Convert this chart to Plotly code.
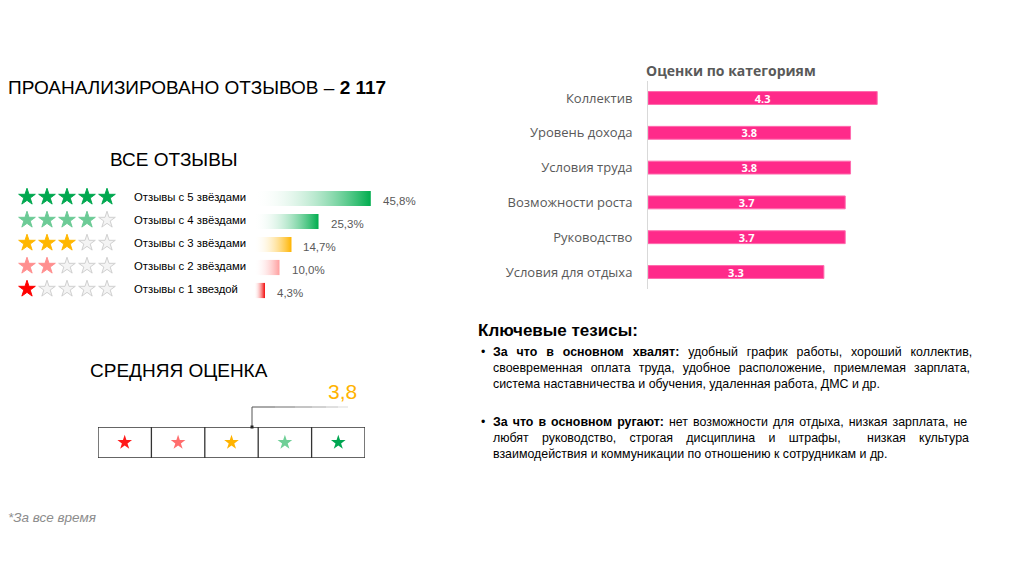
import plotly.graph_objects as go

# ---- data ----
total_reviews = "2 117"
star_levels = [5, 4, 3, 2, 1]
star_labels = ["Отзывы с 5 звёздами", "Отзывы с 4 звёздами", "Отзывы с 3 звёздами",
               "Отзывы с 2 звёздами", "Отзывы с 1 звездой"]
star_share = [45.8, 25.3, 14.7, 10.0, 4.3]
star_colors = ["#00A84F", "#6CCB96", "#FFB700", "#FF8F8F", "#FF0000"]
bar_colors = ["#00AD4E", "#00AD4E", "#FFB400", "#FF9E9E", "#F20000"]

avg_score = 3.8
box_star_colors = ["#FF1A1A", "#FF6E6E", "#FFB300", "#6FCF97", "#00A651"]

categories = ["Коллектив", "Уровень дохода", "Условия труда",
              "Возможности роста", "Руководство", "Условия для отдыха"]
cat_scores = [4.3, 3.8, 3.8, 3.7, 3.7, 3.3]

praise_lines = ["<b>За что в основном хвалят:</b> удобный график работы, хороший коллектив,",
                "своевременная оплата труда, удобное расположение, приемлемая зарплата,",
                "система наставничества и обучения, удаленная работа, ДМС и др."]
blame_lines = ["<b>За что в основном ругают:</b> нет возможности для отдыха, низкая зарплата, не",
               "любят руководство, строгая дисциплина и штрафы,  низкая культура",
               "взаимодействия и коммуникации по отношению к сотрудникам и др."]
# extra word spacing (px) to imitate justified text, 0 = last line of paragraph
praise_spacing = [5.5, 4.8, 0]
blame_spacing = [1.6, 9.8, 0]

# the page body has an 8px margin, so the figure starts at (8, 8)
W, H = 1008, 560


def px(x):
    return (x - 8) / W


def py(y):
    return 1 - (y - 8) / H


ARIAL = "Liberation Sans, Arial, sans-serif"
SEGOE = "Open Sans, sans-serif"

fig = go.Figure()

# right chart: category scores
fig.add_trace(go.Bar(
    x=cat_scores, y=categories, orientation="h", width=0.37,
    marker=dict(color="#FF2A8A", line=dict(color="#FF6BAE", width=1)),
    text=[f"{v:.1f}" for v in cat_scores], textposition="inside",
    insidetextanchor="middle", constraintext="none",
    textfont=dict(family=SEGOE, size=11, color="white", weight="bold"),
    xaxis="x", yaxis="y", showlegend=False, hoverinfo="skip"))

# left: gradient bars with share of reviews
half = 0.33
for i, (v, c) in enumerate(zip(star_share, bar_colors)):
    fig.add_trace(go.Scatter(
        x=[0, v, v, 0, 0], y=[i - half, i - half, i + half, i + half, i - half],
        fill="toself", mode="lines", line=dict(width=0),
        fillgradient=dict(type="horizontal",
                          colorscale=[[0, "rgba(255,255,255,0)"], [1, c]]),
        xaxis="x2", yaxis="y2", showlegend=False, hoverinfo="skip"))

# left: star rows
for i, (n, c) in enumerate(zip(star_levels, star_colors)):
    xs = list(range(1, 6))
    fig.add_trace(go.Scatter(
        x=xs, y=[i] * 5, mode="markers",
        marker=dict(symbol="star", size=12.5,
                    color=[c if k <= n else "#F4F4F4" for k in xs],
                    line=dict(color=[c if k <= n else "#D0D0D0" for k in xs], width=1)),
        xaxis="x3", yaxis="y3", showlegend=False, hoverinfo="skip"))

# average score box stars
fig.add_trace(go.Scatter(
    x=[1, 2, 3, 4, 5], y=[0.5] * 5, mode="markers",
    marker=dict(symbol="star", size=11, color=box_star_colors, line=dict(width=0)),
    xaxis="x4", yaxis="y4", showlegend=False, hoverinfo="skip"))

shapes = []
shapes.append(dict(type="rect", xref="x4", yref="y4", x0=0.5, x1=5.5, y0=0, y1=1,
                   line=dict(color="#333", width=1.3)))
for b in [1.5, 2.5, 3.5, 4.5]:
    shapes.append(dict(type="line", xref="x4", yref="y4", x0=b, x1=b, y0=0, y1=1,
                       line=dict(color="#333", width=1.3)))

# leader line for the average
shapes.append(dict(type="line", xref="paper", yref="paper", x0=px(252), x1=px(252),
                   y0=py(427), y1=py(407), line=dict(color="#555", width=1)))
seg = [252, 275, 295, 312, 326, 338, 348]
for k in range(len(seg) - 1):
    shapes.append(dict(type="line", xref="paper", yref="paper", x0=px(seg[k]), x1=px(seg[k + 1]),
                       y0=py(407), y1=py(407),
                       line=dict(color="#555", width=1), opacity=1 - k * 0.16))
shapes.append(dict(type="rect", xref="paper", yref="paper", x0=px(250.5), x1=px(253.5),
                   y0=py(428.5), y1=py(425.5), fillcolor="#222", line=dict(width=0)))

annotations = []
annotations.append(dict(text="ПРОАНАЛИЗИРОВАНО ОТЗЫВОВ – <b>" + total_reviews + "</b>",
                        x=px(6), y=py(88), xanchor="left", yanchor="middle",
                        font=dict(family=ARIAL, size=19, color="#000")))
annotations.append(dict(text="ВСЕ ОТЗЫВЫ", x=px(174), y=py(160), xanchor="center", yanchor="middle",
                        font=dict(family=ARIAL, size=19, color="#000")))
annotations.append(dict(text="СРЕДНЯЯ ОЦЕНКА", x=px(88), y=py(370), xanchor="left", yanchor="middle",
                        font=dict(family=ARIAL, size=19, color="#000")))
annotations.append(dict(text=f"{avg_score:.1f}".replace(".", ","), x=px(342), y=py(391),
                        xanchor="center", yanchor="middle",
                        font=dict(family=ARIAL, size=21, color="#FFB300")))
annotations.append(dict(text="<i>*За все время</i>", x=px(6), y=py(517), xanchor="left",
                        yanchor="middle", font=dict(family=ARIAL, size=13.5, color="#8C8C8C")))

for i, lab in enumerate(star_labels):
    annotations.append(dict(text=lab, xref="paper", yref="y3", x=px(132), y=i,
                            xanchor="left", yanchor="middle",
                            font=dict(family=ARIAL, size=11.3, color="#000")))
for i, v in enumerate(star_share):
    annotations.append(dict(text=f"{v:.1f}%".replace(".", ","), xref="x2", yref="y2", x=v, y=i,
                            xanchor="left", yanchor="middle", xshift=10, yshift=-2,
                            font=dict(family=ARIAL, size=11.5, color="#595959")))

annotations.append(dict(text="<b>Оценки по категориям</b>", x=px(731), y=py(70),
                        xanchor="center", yanchor="middle",
                        font=dict(family=SEGOE, size=14, color="#595959")))

annotations.append(dict(text="<b>Ключевые тезисы:</b>", x=px(476), y=py(330),
                        xanchor="left", yanchor="middle",
                        font=dict(family=ARIAL, size=17, color="#000")))
for block, spacing, y0 in [(praise_lines, praise_spacing, 352), (blame_lines, blame_spacing, 422)]:
    annotations.append(dict(text="•", x=px(479), y=py(y0), xanchor="left", yanchor="middle",
                            font=dict(family=ARIAL, size=12.4, color="#000")))
    for j, (line, ws) in enumerate(zip(block, spacing)):
        txt = f'<span style="word-spacing:{ws}px">{line}</span>' if ws else line
        annotations.append(dict(text=txt, x=px(491), y=py(y0 + 16 * j),
                                xanchor="left", yanchor="middle",
                                font=dict(family=ARIAL, size=12.4, color="#000")))

for a in annotations:
    a.setdefault("xref", "paper")
    a.setdefault("yref", "paper")
    a["showarrow"] = False

fig.update_layout(
    width=W, height=H, autosize=False,
    margin=dict(l=0, r=0, t=0, b=0),
    paper_bgcolor="white", plot_bgcolor="rgba(0,0,0,0)",
    shapes=shapes, annotations=annotations,
    xaxis=dict(domain=[px(648), px(914.5)], range=[0, 5], visible=False, fixedrange=True),
    yaxis=dict(domain=[py(289.4), py(80.6)], autorange="reversed", showline=True,
               linecolor="#D9D9D9", linewidth=1, ticks="", ticklabelstandoff=12,
               tickfont=dict(family=SEGOE, size=13, color="#595959"),
               showgrid=False, zeroline=False, automargin=False, anchor="x"),
    xaxis2=dict(domain=[px(254), px(407)], range=[0, 60], visible=False, anchor="y2"),
    yaxis2=dict(domain=[py(302), py(187)], range=[4.5, -0.5], visible=False, anchor="x2"),
    xaxis3=dict(domain=[px(17), px(117)], range=[0.5, 5.5], visible=False, anchor="y3"),
    yaxis3=dict(domain=[py(300.5), py(185.5)], range=[4.5, -0.5], visible=False, anchor="x3"),
    xaxis4=dict(domain=[px(98), px(365)], range=[0.5, 5.5], visible=False, anchor="y4"),
    yaxis4=dict(domain=[py(458), py(427)], range=[0, 1], visible=False, anchor="x4"),
)

fig.write_html("out.html")
